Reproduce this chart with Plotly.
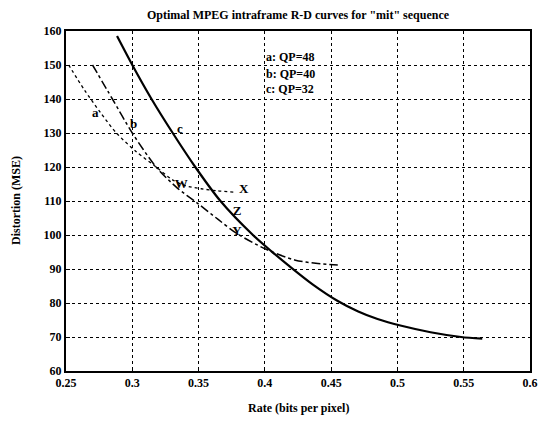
import plotly.graph_objects as go

# Curve a: QP=48
rate_a = [0.252, 0.264, 0.276, 0.288, 0.303, 0.318, 0.330, 0.340, 0.352, 0.364, 0.377]
dist_a = [150.0, 142.6, 136.0, 130.0, 124.5, 120.0, 116.3, 114.5, 113.6, 113.0, 112.6]

# Curve b: QP=40
rate_b = [0.270, 0.285, 0.300, 0.318, 0.334, 0.349, 0.365, 0.379, 0.401, 0.423, 0.440, 0.455]
dist_b = [150.0, 140.0, 130.0, 120.0, 113.8, 109.4, 104.5, 100.4, 95.8, 92.6, 91.6, 91.2]

# Curve c: QP=32
rate_c = [0.2885, 0.300, 0.3145, 0.3305, 0.3475, 0.3665, 0.391, 0.405, 0.418, 0.436, 0.455, 0.470, 0.485, 0.503, 0.525, 0.548, 0.564]
dist_c = [158.5, 150.0, 140.0, 130.0, 120.0, 110.0, 100.0, 95.2, 91.0, 85.5, 80.6, 77.6, 75.3, 73.3, 71.4, 70.0, 69.5]

# Point labels
label_text = ["a", "b", "c", "W", "X", "Z", "Y"]
label_rate = [0.272, 0.301, 0.336, 0.337, 0.384, 0.379, 0.379]
label_dist = [135.6, 132.4, 130.9, 114.7, 113.4, 106.8, 101.0]

legend_lines = ["a: QP=48", "b: QP=40", "c: QP=32"]
legend_dist = [152.4, 147.4, 142.9]

x_ticks = [0.25, 0.3, 0.35, 0.4, 0.45, 0.5, 0.55, 0.6]
x_ticktext = ["0.25", "0.3", "0.35", "0.4", "0.45", "0.5", "0.55", "0.6"]
y_ticks = [60, 70, 80, 90, 100, 110, 120, 130, 140, 150, 160]

FONT = "Liberation Serif"
BOLD12 = dict(family=FONT, size=12, color="black", weight="bold")

fig = go.Figure()
fig.add_trace(go.Scatter(x=rate_a, y=dist_a, mode="lines",
                         line=dict(color="black", width=1.3, dash="dot", shape="spline", smoothing=0.8),
                         showlegend=False))
fig.add_trace(go.Scatter(x=rate_b, y=dist_b, mode="lines",
                         line=dict(color="black", width=1.5, dash="dashdot", shape="spline", smoothing=0.8),
                         showlegend=False))
fig.add_trace(go.Scatter(x=rate_c, y=dist_c, mode="lines",
                         line=dict(color="black", width=2.2, shape="spline", smoothing=0.8),
                         showlegend=False))

fig.add_trace(go.Scatter(x=label_rate, y=label_dist, mode="text", text=label_text,
                         textfont=dict(family=FONT, size=13, color="black", weight="bold"),
                         textposition="middle center", showlegend=False))

for t, d in zip(legend_lines, legend_dist):
    fig.add_annotation(x=0.399, y=d, text=t, showarrow=False, xanchor="left", yanchor="middle",
                       font=BOLD12)

# Title and axis titles as annotations for precise placement
fig.add_annotation(text="Optimal MPEG intraframe R-D curves for \"mit\" sequence",
                   xref="paper", yref="paper", x=0.5, y=1, yshift=16, xanchor="center", yanchor="middle",
                   showarrow=False, font=BOLD12)
fig.add_annotation(text="Rate (bits per pixel)",
                   xref="paper", yref="paper", x=0.5, y=0, yshift=-37, xanchor="center", yanchor="middle",
                   showarrow=False, font=BOLD12)
fig.add_annotation(text="Distortion (MSE)", textangle=-90,
                   xref="paper", yref="paper", x=0, xshift=-50, y=0.5, xanchor="center", yanchor="middle",
                   showarrow=False, font=BOLD12)

fig.update_layout(
    width=539, height=413,
    margin=dict(l=58, r=9, t=23, b=50),
    paper_bgcolor="white", plot_bgcolor="white",
    font=dict(family=FONT, size=12, color="black"),
)
fig.update_xaxes(range=[0.25, 0.6], tickvals=x_ticks, ticktext=x_ticktext,
                 showgrid=True, gridcolor="black", griddash="dot", gridwidth=1,
                 showline=True, linecolor="black", linewidth=2, mirror=True,
                 ticks="inside", ticklen=4, tickcolor="black",
                 tickfont=BOLD12, zeroline=False)
fig.update_yaxes(range=[60, 160], tickvals=y_ticks,
                 showgrid=True, gridcolor="black", griddash="dot", gridwidth=1,
                 showline=True, linecolor="black", linewidth=2, mirror=True,
                 ticks="inside", ticklen=4, tickcolor="black",
                 tickfont=BOLD12, zeroline=False)

fig.write_html("out.html")
